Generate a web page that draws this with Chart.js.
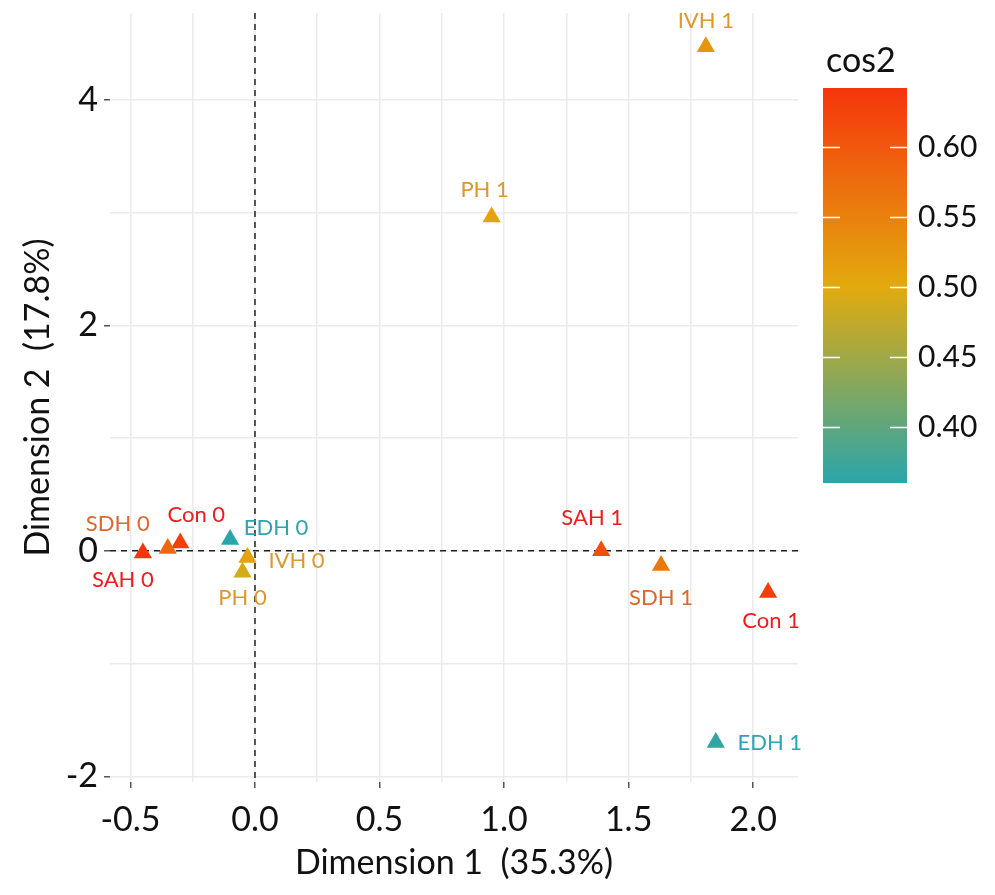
<!DOCTYPE html>
<html>
<head>
<meta charset="utf-8">
<script src="https://cdn.jsdelivr.net/npm/chart.js@4"></script>
<style>
  html, body { margin: 0; padding: 0; background: #fff; }
  #wrap { width: 995px; height: 895px; }
</style>
</head>
<body>
<div id="wrap"><canvas id="chart" width="995" height="895"></canvas></div>
<script>
// categories and values
const categories = ["Con 0", "SAH 0", "SDH 0", "EDH 0", "IVH 0", "PH 0",
                    "Con 1", "SAH 1", "SDH 1", "EDH 1", "IVH 1", "PH 1"];
const dim1 = [-0.30, -0.45, -0.35, -0.10, -0.03, -0.05, 2.06, 1.39, 1.63, 1.85, 1.81, 0.95];
const dim2 = [0.07, -0.02, 0.02, 0.10, -0.06, -0.19, -0.37, 0.00, -0.13, -1.70, 4.47, 2.96];
const cos2 = [0.63, 0.642, 0.58, 0.36, 0.51, 0.49, 0.63, 0.61, 0.56, 0.365, 0.525, 0.51];

const xTicks = [-0.5, 0.0, 0.5, 1.0, 1.5, 2.0];
const yTicks = [-2, 0, 2, 4];
const legendTicks = [0.40, 0.45, 0.50, 0.55, 0.60];

// label placement (pixel offsets from each point) and label colours
const labelOffsets = [[16, -28], [-20, 27], [-50, -25], [46, -12], [49, 3], [0, 26],
                      [3, 28], [-9, -33], [0, 32], [54, 0], [0, -26], [-7, -27]];
const labelColors = ["#f21c1c", "#f21c1c", "#e0662a", "#2ea3b3", "#dc982e", "#dc982e",
                     "#f21c1c", "#f21c1c", "#e0662a", "#2ea3b3", "#dc982e", "#dc982e"];

const FONT = "Lato, 'Open Sans', sans-serif";
const lowCol = [0x2A, 0xA5, 0xAA], midCol = [0xE2, 0xAA, 0x0E], highCol = [0xF6, 0x35, 0x0C];
const cMin = Math.min(...cos2), cMax = Math.max(...cos2), cMid = 0.50;

function mix(a, b, t) {
    return "rgb(" + a.map((v, i) => Math.round(v + (b[i] - v) * t)).join(",") + ")";
}
function cosColor(v) {
    if (v <= cMid) return mix(lowCol, midCol, (v - cMin) / (cMid - cMin));
    return mix(midCol, highCol, (v - cMid) / (cMax - cMid));
}

const points = dim1.map((x, i) => ({ x: x, y: dim2[i] }));

const zeroLines = {
    id: "zeroLines",
    beforeDatasetsDraw(chart) {
        const { ctx, chartArea: a, scales } = chart;
        const x0 = scales.x.getPixelForValue(0), y0 = scales.y.getPixelForValue(0);
        ctx.save();
        ctx.strokeStyle = "#222";
        ctx.lineWidth = 1.5;
        ctx.setLineDash([6, 5]);
        ctx.beginPath();
        ctx.moveTo(x0, a.top); ctx.lineTo(x0, a.bottom);
        ctx.moveTo(a.left, y0); ctx.lineTo(a.right, y0);
        ctx.stroke();
        ctx.restore();
    }
};

const pointLabels = {
    id: "pointLabels",
    afterDatasetsDraw(chart) {
        const { ctx } = chart;
        const meta = chart.getDatasetMeta(0);
        ctx.save();
        ctx.font = "22px " + FONT;
        ctx.textAlign = "center";
        ctx.textBaseline = "middle";
        meta.data.forEach((el, i) => {
            ctx.fillStyle = labelColors[i];
            ctx.fillText(categories[i], el.x + labelOffsets[i][0], el.y + labelOffsets[i][1]);
        });
        ctx.restore();
    }
};

const colorBar = {
    id: "colorBar",
    afterDraw(chart) {
        const { ctx } = chart;
        const left = 823, right = 907, top = 88, bottom = 483;
        const valToY = v => bottom - (v - cMin) / (cMax - cMin) * (bottom - top);
        ctx.save();
        ctx.fillStyle = "#111";
        ctx.font = "34px " + FONT;
        ctx.textAlign = "left";
        ctx.textBaseline = "alphabetic";
        ctx.fillText("cos2", 826, 72);
        const g = ctx.createLinearGradient(0, bottom, 0, top);
        g.addColorStop(0, cosColor(cMin));
        g.addColorStop((cMid - cMin) / (cMax - cMin), cosColor(cMid));
        g.addColorStop(1, cosColor(cMax));
        ctx.fillStyle = g;
        ctx.fillRect(left, top, right - left, bottom - top);
        ctx.strokeStyle = "#fff";
        ctx.lineWidth = 1.5;
        ctx.font = "30px " + FONT;
        ctx.textBaseline = "middle";
        legendTicks.forEach(v => {
            const y = Math.round(valToY(v)) + 0.5;
            ctx.beginPath();
            ctx.moveTo(left, y); ctx.lineTo(left + 17, y);
            ctx.moveTo(right - 17, y); ctx.lineTo(right, y);
            ctx.stroke();
            ctx.fillStyle = "#111";
            ctx.fillText(v.toFixed(2), 918, y);
        });
        ctx.restore();
    }
};

function stepTicks(lo, hi, step) {
    const out = [];
    for (let v = lo; v <= hi + 1e-9; v += step) out.push({ value: Math.round(v * 100) / 100 });
    return out;
}

new Chart(document.getElementById("chart"), {
    type: "scatter",
    data: {
        datasets: [{
            data: points,
            pointStyle: "triangle",
            pointRadius: 10.5,
            pointHoverRadius: 10.5,
            borderWidth: 0,
            backgroundColor: ctx => cosColor(cos2[ctx.dataIndex]),
            borderColor: ctx => cosColor(cos2[ctx.dataIndex])
        }]
    },
    options: {
        responsive: false,
        animation: false,
        layout: { padding: { left: 0, right: 197, top: 13, bottom: 0 } },
        plugins: { legend: { display: false }, tooltip: { enabled: false } },
        scales: {
            x: {
                type: "linear",
                min: -0.582,
                max: 2.18,
                afterBuildTicks: s => { s.ticks = stepTicks(-0.5, 2.0, 0.25); },
                afterFit: s => { s.height = 113; s.paddingLeft = 0; s.paddingRight = 0; },
                border: { display: false },
                grid: {
                    color: "#ebebeb",
                    lineWidth: 1.5,
                    tickLength: 6,
                    tickColor: c => xTicks.includes(c.tick && c.tick.value) ? "#555" : "rgba(0,0,0,0)"
                },
                ticks: {
                    font: { family: FONT, size: 34 },
                    color: "#111",
                    padding: 12,
                    autoSkip: false,
                    maxRotation: 0,
                    callback: v => xTicks.includes(v) ? v.toFixed(1) : ""
                },
                title: {
                    display: true,
                    text: "Dimension 1  (35.3%)",
                    font: { family: FONT, size: 34 },
                    color: "#111",
                    padding: { top: 0, bottom: 12 }
                }
            },
            y: {
                type: "linear",
                min: -2.05,
                max: 4.77,
                afterBuildTicks: s => { s.ticks = stepTicks(-2, 4, 1); },
                afterFit: s => { s.width = 110; s.paddingTop = 0; s.paddingBottom = 0; },
                border: { display: false },
                grid: {
                    color: "#ebebeb",
                    lineWidth: 1.5,
                    tickLength: 6,
                    tickColor: c => yTicks.includes(c.tick && c.tick.value) ? "#555" : "rgba(0,0,0,0)"
                },
                ticks: {
                    font: { family: FONT, size: 34 },
                    color: "#111",
                    padding: 6,
                    autoSkip: false,
                    callback: v => yTicks.includes(v) ? String(v) : ""
                },
                title: {
                    display: true,
                    text: "Dimension 2  (17.8%)",
                    font: { family: FONT, size: 34 },
                    color: "#111",
                    padding: { top: 18, bottom: 0 }
                }
            }
        }
    },
    plugins: [zeroLines, pointLabels, colorBar]
});
</script>
</body>
</html>
